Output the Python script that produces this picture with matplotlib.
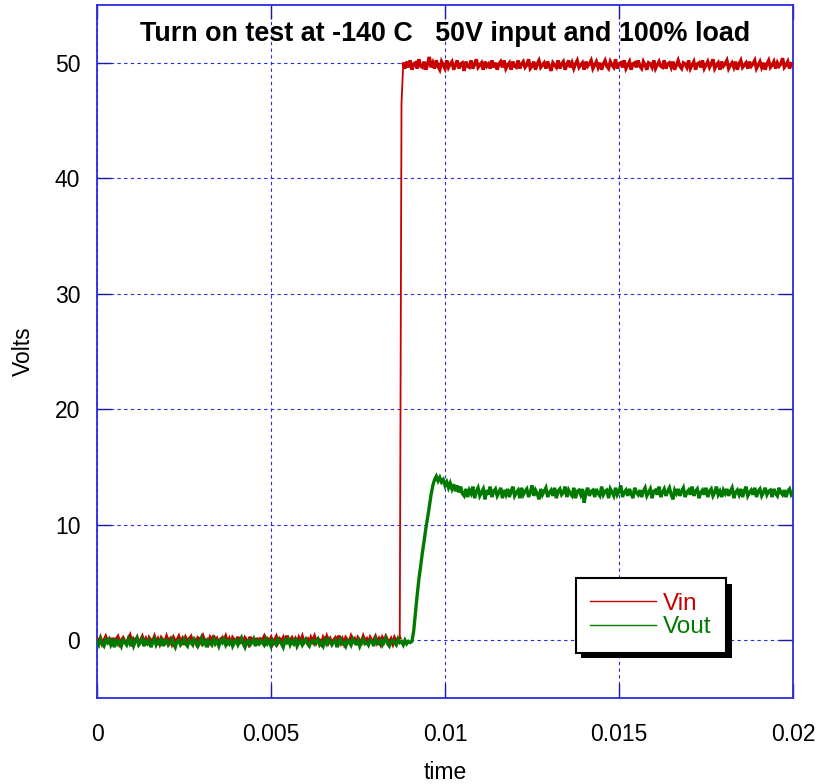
import numpy as np
import matplotlib
matplotlib.use("Agg")
import matplotlib.pyplot as plt
import matplotlib.patheffects as pe

plt.rcParams['font.family'] = ['Liberation Sans', 'DejaVu Sans']

DT = 0.00005  # sample interval (s)

vin = [
    0.1, -0.2, 0.2, -0.3, 0.0, 0.3, -0.1, 0.1, -0.4, 0.2, -0.2, 0.1, 0.3, -0.3, 0.0, 0.2, -0.1, -0.3, 0.1, 0.4, -0.2, 0.1, -0.1, 0.2, -0.3,
    0.0, 0.3, -0.2, 0.1, -0.4, 0.2, 0.0, -0.1, 0.3, -0.2, 0.1, -0.3, 0.2, 0.0, -0.2, 0.3, -0.1, 0.1, -0.3, 0.2, -0.1, 0.0, 0.3, -0.2, 0.1,
    -0.4, 0.2, -0.1, 0.1, 0.3, -0.2, 0.0, -0.3, 0.2, 0.1, -0.2, 0.3, -0.1, 0.0, -0.3, 0.2, -0.1, 0.4, -0.2, 0.1, -0.3, 0.0, 0.2, -0.1, 0.3,
    -0.2, 0.1, -0.4, 0.2, 0.0, -0.1, 0.3, -0.3, 0.1, -0.2, 0.2, 0.0, -0.3, 0.3, -0.1, 0.1, -0.2, 0.2, -0.4, 0.1, 0.0, 0.3, -0.2, 0.1, -0.1,
    0.2, -0.3, 0.0, 0.3, -0.2, 0.1, -0.1, 0.2, -0.3, 0.4, -0.1, 0.0, 0.2, -0.2, 0.1, -0.3, 0.2, -0.1, 0.3, -0.2, 0.0, 0.1, -0.4, 0.2, -0.1,
    0.3, -0.2, 0.1, 0.0, -0.3, 0.2, -0.1, 0.3, -0.2, 0.1, -0.3, 0.0, 0.2, -0.1, 0.4, -0.2, 0.1, -0.3, 0.2, 0.0, -0.2, 0.3, -0.1, 0.1, -0.4,
    0.2, 0.0, -0.2, 0.3, -0.1, 0.1, -0.3, 0.2, -0.1, 0.0, 0.3, -0.2, 0.1, -0.3, 0.2, -0.1, 0.3, 0.0, -0.2, 0.1, -0.3, 0.2, -0.1, 0.1, 0.2,
    46.5,
    49.9, 49.5, 50.1, 49.6, 50.2, 49.4, 49.9, 50.0, 49.5, 50.3, 49.7, 49.6, 50.1, 49.4, 49.9, 50.5, 49.6, 50.0, 49.5, 50.2, 49.7, 49.4, 50.1, 49.8, 49.5,
    50.2, 49.6, 49.9, 50.1, 49.4, 49.8, 50.2, 49.5, 49.9, 50.0, 49.3, 50.1, 49.7, 49.6, 50.2, 49.5, 49.9, 50.3, 49.6, 49.8, 50.0, 49.4, 50.1, 49.7, 49.9,
    49.5, 50.2, 49.6, 50.0, 49.4, 49.9, 50.1, 49.6, 50.2, 49.5, 49.8, 50.0, 49.4, 50.1, 49.7, 49.6, 50.2, 49.5, 49.9, 50.1, 49.6, 49.8, 50.3, 49.5, 49.7,
    50.1, 49.4, 49.9, 50.2, 49.6, 49.8, 50.0, 49.5, 50.1, 49.7, 49.3, 50.0, 49.8, 49.6, 50.2, 49.5, 49.9, 50.1, 49.4, 49.8, 50.2, 49.6, 50.0, 49.5, 49.9,
    50.2, 49.6, 49.8, 50.0, 49.4, 50.1, 49.7, 49.9, 50.2, 49.5, 49.8, 50.1, 49.6, 50.0, 49.4, 49.9, 50.2, 49.7, 49.5, 50.1, 49.8, 49.6, 50.3, 49.5, 49.9,
    50.0, 49.6, 50.2, 49.5, 49.8, 50.1, 49.4, 49.9, 50.0, 49.6, 50.2, 49.7, 49.5, 50.1, 49.8, 49.4, 50.0, 49.9, 49.6, 50.2, 49.5, 49.8, 50.1, 49.7, 49.6,
    50.2, 49.5, 49.9, 50.0, 49.6, 50.1, 49.4, 49.8, 50.2, 49.7, 49.5, 50.0, 49.9, 49.6, 50.2, 49.5, 49.8, 50.1, 49.4, 49.9, 50.0, 49.6, 50.2, 49.5, 49.8,
    50.1, 49.6, 49.9, 50.3, 49.5, 49.8, 50.0, 49.4, 50.1, 49.7, 49.9, 50.2, 49.5, 49.8, 50.0, 49.6, 50.1, 49.4, 49.9, 50.2, 49.6, 49.8, 50.0, 49.5, 50.1,
    49.7, 49.9, 50.2, 49.5, 49.8, 50.1, 49.6, 50.0, 49.4, 49.9, 50.2, 49.6, 49.8, 50.1, 49.5, 50.0, 49.7, 49.9, 50.4, 49.6, 49.8, 50.1, 49.5, 49.9, 49.8,
]

vout = [
    -0.1, -0.4, 0.1, -0.3, -0.5, 0.0, -0.2, 0.2, -0.4, -0.1, -0.6, 0.1, -0.3, -0.1, -0.5, 0.0, -0.2, -0.4, 0.1, -0.3, 0.0, -0.5, -0.1, 0.2, -0.4,
    -0.2, 0.1, -0.5, -0.1, -0.3, 0.0, -0.6, -0.2, 0.1, -0.4, -0.1, -0.3, 0.2, -0.5, -0.1, 0.0, -0.4, -0.2, 0.1, -0.3, -0.6, -0.1, 0.0, -0.4, -0.2,
    0.1, -0.3, -0.5, 0.0, -0.2, -0.4, 0.1, -0.1, -0.5, -0.2, 0.2, -0.3, -0.1, -0.6, 0.0, -0.2, -0.4, 0.1, -0.3, -0.1, -0.5, 0.0, -0.2, 0.1, -0.4,
    -0.1, -0.3, 0.1, -0.5, -0.2, 0.0, -0.4, -0.1, 0.2, -0.3, -0.6, -0.1, 0.0, -0.4, -0.2, 0.1, -0.5, -0.1, -0.3, 0.0, -0.2, -0.4, 0.1, -0.3, -0.1,
    -0.5, 0.0, -0.2, -0.4, 0.1, -0.1, -0.3, -0.6, 0.0, -0.2, 0.1, -0.4, -0.1, -0.3, 0.2, -0.5, -0.2, 0.0, -0.4, -0.1, 0.1, -0.3, -0.5, -0.1, 0.0,
    -0.3, -0.1, 0.1, -0.4, -0.2, -0.5, 0.0, -0.3, 0.1, -0.1, -0.4, -0.2, 0.0, -0.6, -0.1, 0.1, -0.3, -0.2, -0.5, 0.0, -0.1, -0.4, 0.1, -0.2, -0.3,
    0.0, -0.5, -0.1, 0.1, -0.3, -0.2, -0.4, 0.0, -0.1, -0.5, 0.1, -0.2, -0.3, 0.0, -0.4, -0.1, 0.2, -0.3, -0.5, -0.1, 0.0, -0.2, -0.4, 0.1, -0.2,
    -0.1, -0.4, 0.0, -0.3, -0.1, -0.2, -0.1,
    0.8, 2.4, 3.9, 5.3, 6.4, 7.6, 8.6, 9.7, 10.6, 11.6, 12.6, 13.4, 13.9, 14.2, 13.8, 14.1, 13.7, 13.9, 13.4, 13.7, 13.2, 13.6, 13.1, 13.5, 12.9,
    13.4, 12.8, 13.3, 12.7,
    12.5, 13.1, 12.4, 13.0, 12.7, 13.3, 12.3, 12.9, 13.2, 12.5, 12.8, 13.1, 12.2, 13.0, 12.6, 13.3, 12.4, 12.9, 13.1, 12.5, 12.8, 13.2, 12.3, 13.0, 12.6,
    13.1, 12.4, 12.9, 13.3, 12.5, 12.8, 13.0, 12.3, 13.2, 12.6, 12.9, 13.1, 12.4, 12.8, 13.4, 12.5, 13.0, 12.7, 12.2, 13.1, 12.6, 12.9, 13.2, 12.4, 12.8,
    13.0, 12.5, 13.2, 12.3, 12.9, 13.1, 12.6, 12.8, 13.3, 12.4, 13.0, 12.7, 12.5, 13.2, 12.3, 12.9, 13.0, 12.6, 13.1, 11.9, 12.8, 13.2, 12.5, 12.9, 13.0,
    12.4, 13.1, 12.7, 12.5, 13.3, 12.6, 12.9, 13.0, 12.3, 13.1, 12.8, 12.5, 13.2, 12.6, 12.9, 13.4, 12.4, 12.8, 13.0, 12.5, 13.1, 12.7, 12.3, 13.2, 12.8,
    12.6, 13.0, 12.4, 12.9, 13.2, 12.5, 12.8, 13.1, 12.3, 12.9, 13.0, 12.6, 13.3, 12.4, 12.8, 13.1, 12.5, 12.9, 13.2, 12.6, 12.2, 13.0, 12.7, 13.1, 12.5,
    12.9, 13.2, 12.4, 12.8, 13.0, 12.6, 13.3, 12.5, 12.9, 13.1, 12.3, 12.8, 13.0, 12.6, 13.2, 12.4, 12.9, 13.1, 12.5, 12.8, 13.3, 12.6, 12.9, 12.4, 13.0,
    12.7, 13.1, 12.5, 12.9, 13.2, 12.3, 12.8, 13.0, 12.6, 13.1, 12.4, 12.9, 13.3, 12.5, 12.8, 13.0, 12.6, 13.2, 12.4, 12.9, 13.1, 12.5, 12.8, 13.2, 12.6,
    12.9, 13.0, 12.4, 13.1, 12.7, 12.5, 13.2, 12.8, 12.6, 13.0, 12.4, 12.9, 13.1, 12.6, 12.8,
]

x_ticks = [0, 0.005, 0.01, 0.015, 0.02]
x_tick_labels = ['0', '0.005', '0.01', '0.015', '0.02']
y_ticks = [0, 10, 20, 30, 40, 50]
series_names = ['Vin', 'Vout']
series_colors = ['#c80000', '#007a00']
title = 'Turn on test at -140 C   50V input and 100% load'

vin_arr = np.asarray(vin)
vout_arr = np.asarray(vout)
t_in = np.arange(len(vin_arr)) * DT
t_out = np.arange(len(vout_arr)) * DT

fig = plt.figure(figsize=(8.19, 7.84), dpi=100)
ax = fig.add_axes([97 / 819, 1 - 698 / 784, 696 / 819, 693 / 784])

# Vin: noisy flat parts drawn thick (scope noise band), the fast edge thin
k = int(np.argmax(vin_arr > 25))  # first sample after the edge
ax.plot(t_in[:k], vin_arr[:k], color=series_colors[0], lw=2.4, zorder=3,
        solid_joinstyle='miter')
ax.plot(t_in[k - 1:k + 2], vin_arr[k - 1:k + 2], color=series_colors[0],
        lw=1.3, zorder=3)
ax.plot(t_in[k + 1:], vin_arr[k + 1:], color=series_colors[0], lw=2.4,
        zorder=3, solid_joinstyle='miter')
ax.plot([], [], color=series_colors[0], lw=1.0, label=series_names[0])

ax.plot(t_out, vout_arr, color=series_colors[1], lw=2.4, zorder=4,
        solid_joinstyle='miter')
ax.plot([], [], color=series_colors[1], lw=1.0, label=series_names[1])

ax.set_xlim(0, 0.02)
ax.set_ylim(-5, 55)
ax.set_xticks(x_ticks)
ax.set_xticklabels(x_tick_labels)
ax.set_yticks(y_ticks)

ax.grid(True, color='#2a2ae0', linestyle=(0, (3, 3)), lw=0.8, zorder=1)
ax.set_axisbelow(True)
for s in ax.spines.values():
    s.set_color('#2a2ae0')
    s.set_linewidth(1.3)

ax.tick_params(direction='in', length=10, width=1, color='#1a1aa0',
               top=True, right=True, labelsize=16.5)
ax.tick_params(axis='x', pad=18)
ax.tick_params(axis='y', pad=12)

ax.set_xlabel('time', fontsize=16.5, labelpad=11)
ax.set_ylabel('Volts', fontsize=16.5, labelpad=14)

ax.text(0.5, 0.958, title, transform=ax.transAxes, ha='center', va='center',
        fontsize=19.4, fontweight='bold', zorder=6)

leg = ax.legend(loc='center', bbox_to_anchor=(0.796, 0.119), fontsize=17.5,
                labelcolor='linecolor', fancybox=False, framealpha=1,
                edgecolor='black', handlelength=2.7, handletextpad=0.3,
                borderpad=0.6, labelspacing=0.05, borderaxespad=0)
leg.get_frame().set_linewidth(1.5)
leg.get_frame().set_path_effects([
    pe.SimplePatchShadow(offset=(4, -4), shadow_rgbFace='black', alpha=1),
    pe.Normal()])
leg.set_zorder(10)

fig.savefig('out.png', dpi=100)
